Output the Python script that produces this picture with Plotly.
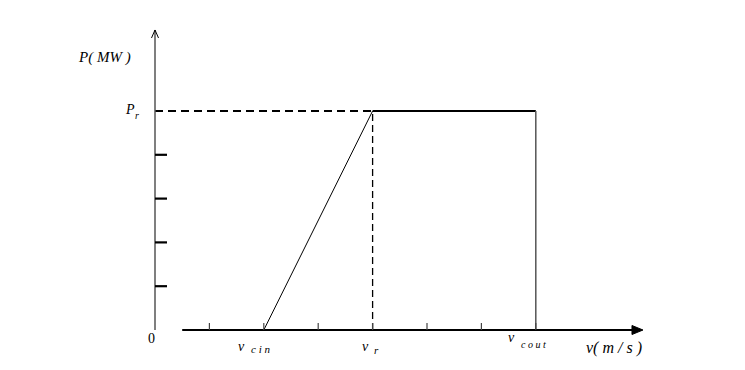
import plotly.graph_objects as go

# ---- data ----
v_ticks = [1, 2, 3, 4, 5, 6, 7]          # x tick positions (units)
p_ticks = [1, 2, 3, 4]                   # y tick positions (units)
v_cin, v_r, v_cout = 2, 4, 7
P_r = 5
curve_v = [v_cin, v_r, v_cout, v_cout]
curve_p = [0, P_r, P_r, 0]
x_axis_start, x_axis_end = 0.5, 8.97
y_axis_end = 6.85

# pixel mapping (fixed axis ranges)
ux, uy = 54.4, 43.8
x0p, y0p = 155, 330
xr = [-x0p / ux, (745 - x0p) / ux]
yr = [-(370 - y0p) / uy, y0p / uy]

fig = go.Figure()

fig.add_trace(go.Scatter(x=curve_v[:2], y=curve_p[:2], mode="lines",
                         line=dict(color="black", width=1), hoverinfo="skip"))
fig.add_trace(go.Scatter(x=curve_v[1:3], y=curve_p[1:3], mode="lines",
                         line=dict(color="black", width=2.2), hoverinfo="skip"))
fig.add_trace(go.Scatter(x=curve_v[2:4], y=curve_p[2:4], mode="lines",
                         line=dict(color="#555555", width=1.5), hoverinfo="skip"))
fig.add_trace(go.Scatter(x=[0, v_r], y=[P_r, P_r], mode="lines",
                         line=dict(color="black", width=2.2, dash="8px,5px"), hoverinfo="skip"))
fig.add_trace(go.Scatter(x=[v_r, v_r], y=[0, P_r], mode="lines",
                         line=dict(color="black", width=1.3, dash="7px,4px"), hoverinfo="skip"))

shapes = []
shapes.append(dict(type="line", x0=0, x1=0, y0=0, y1=y_axis_end,
                   line=dict(color="#555555", width=1.5)))
shapes.append(dict(type="line", x0=x_axis_start, x1=x_axis_end - 0.1, y0=0, y1=0,
                   line=dict(color="black", width=2.2)))
ah_len, ah_h = 11 / ux, 4.5 / uy
shapes.append(dict(type="path",
                   path=f"M {x_axis_end - ah_len},{ah_h} L {x_axis_end},0 L {x_axis_end - ah_len},{-ah_h} Z",
                   fillcolor="black", line=dict(color="black", width=1)))
yl, yw = 8 / uy, 3.5 / ux
shapes.append(dict(type="path",
                   path=f"M {-yw},{y_axis_end - yl} L 0,{y_axis_end} L {yw},{y_axis_end - yl}",
                   line=dict(color="black", width=1)))
for t in v_ticks:
    shapes.append(dict(type="line", x0=t, x1=t, y0=0, y1=7 / uy,
                       line=dict(color="#444444", width=1.2)))
for t in p_ticks:
    shapes.append(dict(type="line", x0=0, x1=12 / ux, y0=t, y1=t,
                       line=dict(color="black", width=2.2)))

ann = []
def A(xv, dxp, yv, dyp, text, size=14):
    """place text at data value plus pixel offset (dy positive = down)"""
    ann.append(dict(x=xv + dxp / ux, y=yv - dyp / uy, xref="x", yref="y",
                    text=text, showarrow=False, xanchor="center", yanchor="middle",
                    font=dict(family="Liberation Serif", size=size, color="black")))

A(0, -51, 0, 57 - y0p, "<i>P( MW )</i>", 15)
A(0, -25, P_r, -2, "<i>P</i>", 14)
A(0, -18, P_r, 4, "<i>r</i>", 10)
A(0, -4, 0, 8, "0", 14)
A(v_cin, -22, 0, 16, "<i>v</i>", 14)
A(v_cin, -3, 0, 19, "<i>c i n</i>", 11)
A(v_r, -7, 0, 16, "<i>v</i>", 14)
A(v_r, 4, 0, 20, "<i>r</i>", 11)
A(v_cout, -24, 0, 7, "<i>v</i>", 14)
A(v_cout, -2, 0, 14, "<i>c o u t</i>", 10)
A(x_axis_end, -29, 0, 18, "<i>v( m / s )</i>", 16)

fig.update_layout(
    width=745, height=370, margin=dict(l=0, r=0, t=0, b=0),
    paper_bgcolor="white", plot_bgcolor="white", showlegend=False,
    xaxis=dict(range=xr, visible=False, fixedrange=True),
    yaxis=dict(range=yr, visible=False, fixedrange=True),
    shapes=shapes, annotations=ann,
)
fig.write_html("out.html")
